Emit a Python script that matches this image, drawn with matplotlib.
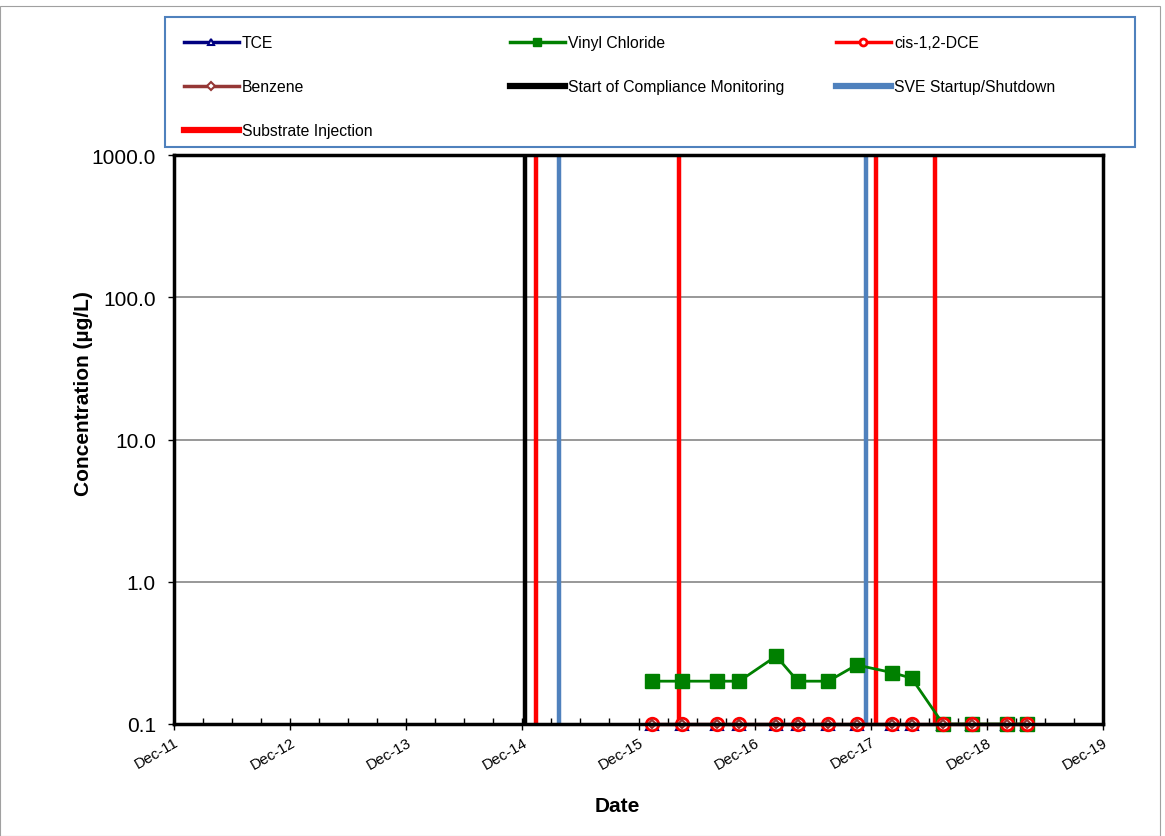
import matplotlib
matplotlib.use("Agg")
import matplotlib.pyplot as plt
import matplotlib.dates as mdates
from matplotlib.ticker import FixedLocator, NullLocator, FixedFormatter
from matplotlib.lines import Line2D
from matplotlib.patches import Rectangle
import datetime as dt

plt.rcParams['font.family'] = ['Liberation Sans', 'DejaVu Sans']

# sampling dates and results (ug/L)
sample_dates = ['2016-01-11', '2016-04-15', '2016-08-03', '2016-10-13', '2017-02-06',
                '2017-04-15', '2017-07-20', '2017-10-17', '2018-02-05', '2018-04-08',
                '2018-07-16', '2018-10-14', '2019-02-03', '2019-04-07']
tce = [0.1] * 14
vinyl_chloride = [0.2, 0.2, 0.2, 0.2, 0.3, 0.2, 0.2, 0.26, 0.23, 0.21, 0.1, 0.1, 0.1, 0.1]
cis_dce = [0.1] * 14
benzene = [0.1] * 14

# site events
compliance_start = ['2014-12-09']
sve_events = ['2015-03-26', '2017-11-15']
injections = ['2015-01-13', '2016-04-07', '2017-12-17', '2018-06-20']

tick_years = list(range(2011, 2020))
tick_labels = ['Dec-%02d' % (y % 100) for y in tick_years]

W, H = 1165, 837
to_date = lambda s: dt.datetime.strptime(s, '%Y-%m-%d')
x = [to_date(s) for s in sample_dates]

fig = plt.figure(figsize=(W / 100, H / 100), dpi=100)
fig.patches.append(Rectangle((0.0, 0.0), 0.9955, 0.9915, transform=fig.transFigure,
                             fill=False, edgecolor='#a0a0a0', linewidth=0.8))
ax = fig.add_axes([174 / W, 1 - 725 / H, (1103 - 174) / W, (725 - 156) / H])

ax.set_yscale('log')
ax.set_ylim(0.1, 1000)
ax.set_xlim(dt.datetime(2011, 12, 1), dt.datetime(2019, 12, 1))

for d in compliance_start:
    ax.axvline(to_date(d), color='black', lw=3.2, zorder=2)
for d in sve_events:
    ax.axvline(to_date(d), color='#4f81bd', lw=3.2, zorder=2)
for d in injections:
    ax.axvline(to_date(d), color='#ff0000', lw=3.2, zorder=2)

tce_style = dict(color='#000080', marker='^', mfc='white', mec='#000080', mew=1.5)
vc_style = dict(color='#008000', marker='s', mfc='#008000', mec='#008000')
dce_style = dict(color='#ff0000', marker='o', mfc='white', mec='#ff0000', mew=2)
bz_style = dict(color='#953735', marker='D', mfc='white', mec='#953735', mew=1.5)

ax.plot(x, tce, ms=8, lw=2, zorder=3, clip_on=False, **tce_style)
ax.plot(x, vinyl_chloride, ms=10, lw=2, zorder=4, clip_on=False, **vc_style)
ax.plot(x, cis_dce, ms=9, lw=2, zorder=5, clip_on=False, **dce_style)
ax.plot(x, benzene, ms=4, lw=2.5, zorder=6, clip_on=False, **bz_style)

ax.yaxis.set_major_locator(FixedLocator([0.1, 1, 10, 100, 1000]))
ax.yaxis.set_major_formatter(FixedFormatter(['0.1', '1.0', '10.0', '100.0', '1000.0']))
ax.yaxis.set_minor_locator(NullLocator())
ax.grid(axis='y', which='major', color='#868686', lw=1.2, zorder=1)

major_dates = [dt.datetime(y, 12, 1) for y in tick_years]
ax.xaxis.set_major_locator(FixedLocator(mdates.date2num(major_dates)))
ax.xaxis.set_major_formatter(FixedFormatter(tick_labels))
minor = []
for y in tick_years[:-1]:
    a = mdates.date2num(dt.datetime(y, 12, 1))
    b = mdates.date2num(dt.datetime(y + 1, 12, 1))
    minor += [a + (b - a) * k / 4 for k in range(1, 4)]
ax.xaxis.set_minor_locator(FixedLocator(minor))

ax.tick_params(axis='x', which='major', direction='inout', length=9, width=1, labelsize=11, pad=3)
ax.tick_params(axis='x', which='minor', direction='in', length=4, width=1)
ax.tick_params(axis='y', which='major', direction='out', length=4, width=1, labelsize=15, pad=9)
plt.setp(ax.get_xticklabels(), rotation=30, ha='right', rotation_mode='anchor')

for s in ax.spines.values():
    s.set_linewidth(2.5)
    s.set_color('black')
    s.set_zorder(7)

ax.set_ylabel('Concentration (\u00b5g/L)', fontsize=15, fontweight='bold')
ax.yaxis.set_label_coords((93 - 174) / 929, (725 - 394) / 569)
ax.set_xlabel('Date', fontsize=15, fontweight='bold')
ax.xaxis.set_label_coords((617 - 174) / 929, (725 - 797) / 569)

# legend: frame plus three columns
fig.patches.append(Rectangle((165 / W, 1 - 148 / H), (1135 - 165) / W, 130 / H,
                             transform=fig.transFigure, fill=False,
                             edgecolor='#4f81bd', linewidth=1.5))

columns = [
    [(Line2D([], [], ms=5, lw=2.5, **tce_style), 'TCE'),
     (Line2D([], [], ms=4, lw=2.5, **bz_style), 'Benzene'),
     (Line2D([], [], color='#ff0000', lw=4.5), 'Substrate Injection')],
    [(Line2D([], [], ms=6, lw=2.5, **vc_style), 'Vinyl Chloride'),
     (Line2D([], [], color='black', lw=4.5), 'Start of Compliance Monitoring')],
    [(Line2D([], [], ms=5, lw=2.5, **dce_style), 'cis-1,2-DCE'),
     (Line2D([], [], color='#4f81bd', lw=4.5), 'SVE Startup/Shutdown')],
]
col_x = [184, 510, 836]
for cx, entries in zip(col_x, columns):
    leg = fig.legend([e[0] for e in entries], [e[1] for e in entries],
                     loc='upper left', bbox_to_anchor=(cx / W, 1 - 36 / H),
                     fontsize=11.3, frameon=False, handlelength=3.5, handletextpad=0.2,
                     labelspacing=1.85, borderpad=0.0, borderaxespad=0.0)

fig.savefig('out.png', dpi=100)
